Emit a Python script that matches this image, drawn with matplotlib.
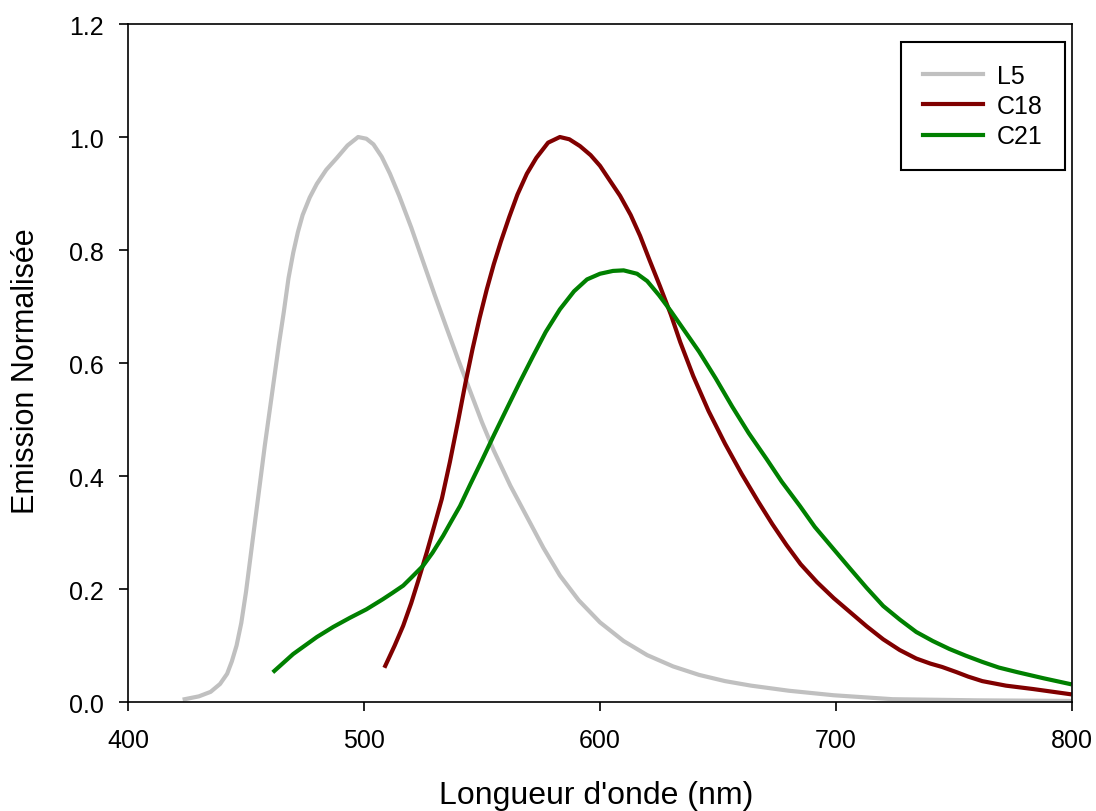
import matplotlib
matplotlib.use("Agg")
import matplotlib.pyplot as plt

plt.rcParams["font.family"] = ["Liberation Sans", "DejaVu Sans"]

# L5 emission (nm, normalised)
l5_x = [424, 430, 435, 439, 442, 444, 446, 448, 450, 452, 454, 456, 458, 460, 462, 464, 466, 468, 470, 472, 474,
        477, 480, 484, 488.5, 493, 497.5, 501, 504, 507.5, 511, 515, 520, 525, 530, 535, 540, 545,
        550, 555, 562, 569, 576, 583, 591, 600, 610, 620, 631, 642, 653, 664, 680, 699, 724, 760, 799]
l5_y = [0.005, 0.01, 0.018, 0.032, 0.05, 0.072, 0.1, 0.14, 0.195, 0.26, 0.325, 0.39, 0.455, 0.515, 0.575, 0.635, 0.69, 0.75, 0.795, 0.832, 0.862,
        0.893, 0.917, 0.942, 0.963, 0.985, 1.0, 0.997, 0.987, 0.965, 0.935, 0.895, 0.84, 0.78, 0.72, 0.662, 0.605, 0.55,
        0.495, 0.445, 0.383, 0.328, 0.273, 0.224, 0.18, 0.141, 0.108, 0.083, 0.063, 0.048, 0.037, 0.029, 0.02, 0.012, 0.005, 0.003, 0.002]

# C18
c18_x = [509, 513, 516.6, 520, 523, 526.6, 530, 533, 536.4, 540, 543, 546, 549, 552, 555, 558,
         561.5, 565, 569, 573, 578, 583, 587, 591.5, 596, 600, 604, 608.5, 613, 617, 621, 625.4, 630,
         634, 639.5, 646, 653, 660, 667, 673, 679, 685, 692, 699, 706, 713, 720, 727, 734, 740, 745,
         751, 756, 762, 772, 783.5, 799]
c18_y = [0.064, 0.10, 0.135, 0.175, 0.215, 0.265, 0.315, 0.36, 0.425, 0.50, 0.565, 0.625, 0.68, 0.73, 0.775, 0.815,
         0.858, 0.898, 0.935, 0.963, 0.99, 1.0, 0.996, 0.984, 0.968, 0.949, 0.924, 0.896, 0.862, 0.825, 0.782, 0.736, 0.686,
         0.637, 0.577, 0.515, 0.457, 0.404, 0.355, 0.315, 0.278, 0.244, 0.212, 0.184, 0.159, 0.134, 0.111, 0.092, 0.077, 0.068, 0.062,
         0.053, 0.045, 0.037, 0.029, 0.023, 0.014]

# C21
c21_x = [462, 470, 480, 487, 494, 501, 508, 512, 516.6, 520, 525, 529, 533.5, 537, 540.7, 545, 550, 555,
         560.6, 566, 571.6, 577, 583, 589, 594.5, 600, 605.5, 610, 615.7, 620, 625, 630, 635, 642, 649,
         656, 663, 670.6, 677, 684.7, 691, 698.7, 706, 713, 720, 727, 734, 741, 748, 755, 762, 769, 776.7, 788, 799]
c21_y = [0.055, 0.085, 0.115, 0.133, 0.149, 0.164, 0.182, 0.193, 0.206, 0.22, 0.241, 0.264, 0.294, 0.32, 0.347, 0.385, 0.428, 0.472,
         0.52, 0.566, 0.612, 0.655, 0.695, 0.727, 0.748, 0.758, 0.763, 0.764, 0.758, 0.745, 0.72, 0.692, 0.662, 0.62, 0.573,
         0.523, 0.476, 0.43, 0.39, 0.347, 0.31, 0.272, 0.236, 0.202, 0.17, 0.146, 0.124, 0.108, 0.094, 0.082, 0.071, 0.061, 0.053, 0.042, 0.032]

fig = plt.figure(figsize=(10.96, 8.12), dpi=100)
ax = fig.add_axes([0.1168, 0.1342, 0.8613, 0.835])

ax.plot(l5_x, l5_y, color="#c0c0c0", lw=3, label="L5", solid_joinstyle="round")
ax.plot(c18_x, c18_y, color="#800000", lw=3, label="C18", solid_joinstyle="round")
ax.plot(c21_x, c21_y, color="#008000", lw=3, label="C21", solid_joinstyle="round")

ax.set_xlim(400, 800)
ax.set_ylim(0, 1.2)
ax.set_xticks([400, 500, 600, 700, 800])
ax.set_yticks([0.0, 0.2, 0.4, 0.6, 0.8, 1.0, 1.2])
ax.set_yticklabels(["0.0", "0.2", "0.4", "0.6", "0.8", "1.0", "1.2"])
ax.tick_params(direction="out", length=6.5, width=1.2, labelsize=18, top=False, right=False)
ax.tick_params(axis="x", pad=12)
ax.tick_params(axis="y", pad=11)
for s in ax.spines.values():
    s.set_linewidth(1.2)

ax.set_xlabel("Longueur d'onde (nm)", fontsize=23)
ax.set_ylabel("Emission Normalisée", fontsize=22)
ax.xaxis.set_label_coords(0.496, -0.115)
ax.yaxis.set_label_coords(-0.092, 0.49)

leg = ax.legend(loc="upper right", bbox_to_anchor=(0.9926, 0.9735), borderaxespad=0,
                fontsize=18, fancybox=False, edgecolor="black", framealpha=1,
                handlelength=2.4, handletextpad=0.55, labelspacing=0.25, borderpad=0.88)
leg.get_frame().set_linewidth(1.5)

fig.savefig("out.png", dpi=100)
